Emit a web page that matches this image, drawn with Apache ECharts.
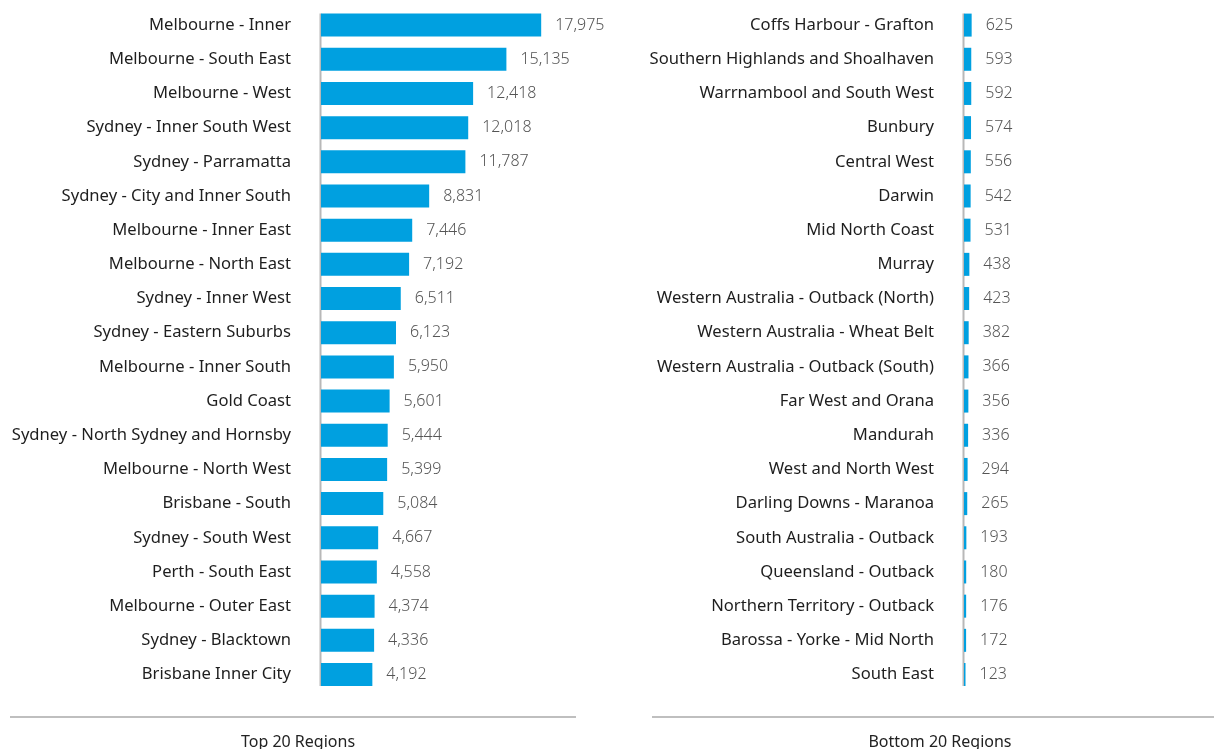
<!DOCTYPE html>
<html><head><meta charset="utf-8">
<script src="https://cdn.jsdelivr.net/npm/echarts@6/dist/echarts.min.js"></script>
<style>html,body{margin:0;padding:0;background:#fff}#c{width:1214px;height:749px}</style>
</head><body><div id="c"></div>
<script>
const topCategories = ["Melbourne - Inner","Melbourne - South East","Melbourne - West","Sydney - Inner South West","Sydney - Parramatta","Sydney - City and Inner South","Melbourne - Inner East","Melbourne - North East","Sydney - Inner West","Sydney - Eastern Suburbs","Melbourne - Inner South","Gold Coast","Sydney - North Sydney and Hornsby","Melbourne - North West","Brisbane - South","Sydney - South West","Perth - South East","Melbourne - Outer East","Sydney - Blacktown","Brisbane Inner City"];
const topValues = [17975,15135,12418,12018,11787,8831,7446,7192,6511,6123,5950,5601,5444,5399,5084,4667,4558,4374,4336,4192];
const bottomCategories = ["Coffs Harbour - Grafton","Southern Highlands and Shoalhaven","Warrnambool and South West","Bunbury","Central West","Darwin","Mid North Coast","Murray","Western Australia - Outback (North)","Western Australia - Wheat Belt","Western Australia - Outback (South)","Far West and Orana","Mandurah","West and North West","Darling Downs - Maranoa","South Australia - Outback","Queensland - Outback","Northern Territory - Outback","Barossa - Yorke - Mid North","South East"];
const bottomValues = [625,593,592,574,556,542,531,438,423,382,366,356,336,294,265,193,180,176,172,123];
const titles = ["Top 20 Regions","Bottom 20 Regions"];

const FONT = "Noto Sans";
const BAR_W = 23;
const fmt = v => v.toLocaleString('en-US');
const chart = echarts.init(document.getElementById('c'));
function yAx(idx, cats){
  return {type:'category', gridIndex:idx, data:cats, inverse:true,
    axisLine:{show:false},
    axisTick:{show:false},
    axisLabel:{color:'#1e1e1e', fontSize:16.6, fontFamily:FONT, margin:30}};
}
function xAx(idx){
  return {type:'value', gridIndex:idx, min:0, max:20000, show:false, splitLine:{show:false}};
}
function ser(idx, vals){
  return {type:'bar', xAxisIndex:idx, yAxisIndex:idx, data:vals, barWidth:BAR_W, z:5,
    itemStyle:{color:'#00a0e0'}, silent:true,
    label:{show:true, position:'right', distance:14, color:'#555', fontSize:16, fontFamily:FONT, fontWeight:300,
      formatter:p=>fmt(p.value)}};
}
chart.setOption({
  animation:false,
  grid:[{left:321, top:8, width:245, height:683.6}, {left:964, top:8, width:245, height:683.6}],
  xAxis:[xAx(0), xAx(1)],
  yAxis:[yAx(0, topCategories), yAx(1, bottomCategories)],
  series:[ser(0, topValues), ser(1, bottomValues)],
  title:[
    {text:titles[0], left:293, textAlign:'center', top:729, textStyle:{color:'#222', fontSize:16, fontWeight:'normal', fontFamily:FONT}},
    {text:titles[1], left:935, textAlign:'center', top:729, textStyle:{color:'#222', fontSize:16, fontWeight:'normal', fontFamily:FONT}}
  ]
});
// axis lines spanning exactly the bars, derived from the scales
const lines = [];
[[0, topCategories], [1, bottomCategories]].forEach(([g, cats]) => {
  const p0 = chart.convertToPixel({gridIndex:g}, [0, cats[0]]);
  const p1 = chart.convertToPixel({gridIndex:g}, [0, cats[cats.length-1]]);
  lines.push({type:'line', z:0, shape:{x1:p0[0]-0.5, y1:p0[1]-BAR_W/2, x2:p1[0]-0.5, y2:p1[1]+BAR_W/2},
    style:{stroke:'#b8b8b8', lineWidth:2}});
});
lines.push({type:'line', z:0, shape:{x1:10, y1:717, x2:576, y2:717}, style:{stroke:'#aaa', lineWidth:1.5}});
lines.push({type:'line', z:0, shape:{x1:652, y1:717, x2:1214, y2:717}, style:{stroke:'#aaa', lineWidth:1.5}});
chart.setOption({graphic: lines});
</script></body></html>
